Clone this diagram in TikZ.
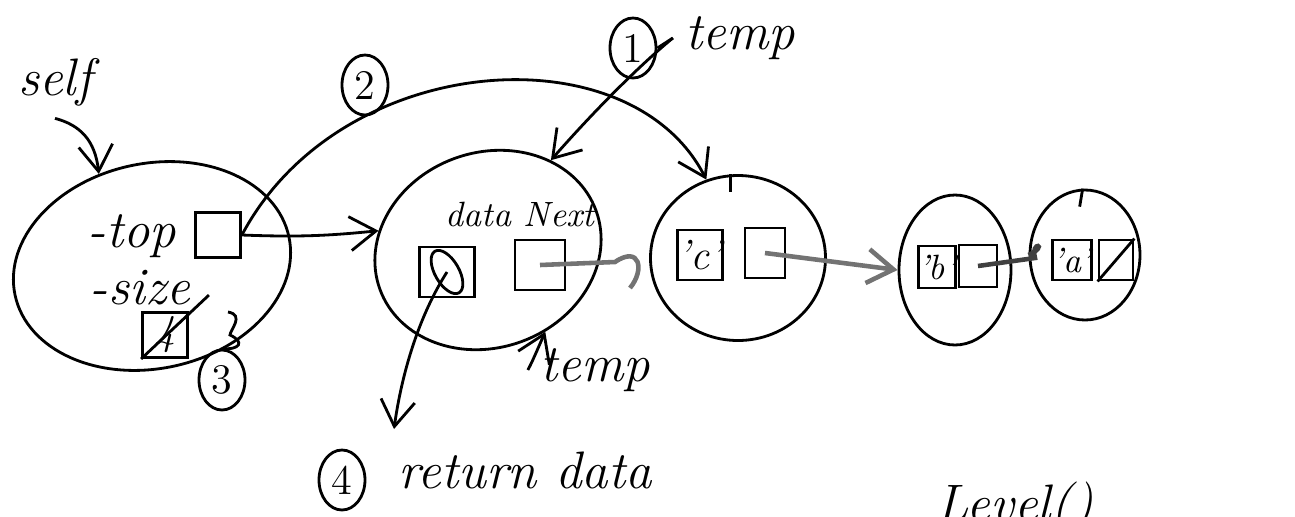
\documentclass[tikz,border=0pt]{standalone}
\usetikzlibrary{arrows.meta,positioning,shapes.geometric}

\begin{document}
\begin{tikzpicture}[
  font=\itshape\fontsize{15}{17}\selectfont,
  >={Straight Barb[length=2.6mm,width=3.4mm]},
  obj/.style={draw,ellipse,thick,inner sep=0pt},
  cell/.style={draw,thick,minimum width=.45cm,minimum height=.45cm,inner sep=0pt,font=\itshape\normalsize},
  num/.style={draw,ellipse,thick,minimum width=.46cm,minimum height=.6cm,inner sep=0pt,font=\large},
  line/.style={->,thick},
  link/.style={line width=1.3pt,black!55}
]
\useasboundingbox (0,0) rectangle (12.95,-5.16);

% The stack object itself.
\node[obj,minimum width=2.8cm,minimum height=2.05cm,rotate=12] (selfobj) at (1.52,-2.66) {};
\node (selflbl) at (0.55,-0.82) {self};
\draw[line] (selflbl.south) .. controls (0.8,-1.25) and (0.95,-1.4) .. (selfobj.108);
\node (toplbl) at (1.32,-2.36) {-top};
\node[cell] (topcell) at (2.18,-2.35) {};
\node (sizelbl) at (1.4,-2.88) {-size};
\node[cell,font=\itshape\large] (sizecell) at (1.65,-3.35) {4};
\draw[thick] (sizecell.south west) -- ([shift={(.2,.16)}]sizecell.north east);
\node[num] (n3) at (2.22,-3.8) {3};
\coordinate (sizemark) at (2.28,-3.12);
\draw[thick] (sizemark) .. controls (2.45,-3.15) and (2.3,-3.3) .. (2.3,-3.35)
  .. controls (2.45,-3.42) and (2.4,-3.5) .. (n3.north);

% Node being popped ('d').
\node[obj,minimum width=2.3cm,minimum height=1.95cm,rotate=20] (nodeD) at (4.88,-2.5) {};
\node[font=\itshape\normalsize] (fieldlbl) at (5.2,-2.14) {data Next};
\node[cell,minimum height=.5cm,minimum width=.55cm] (dataD) at (4.47,-2.72) {};
\draw[thick,rotate around={30:(dataD.center)}] (dataD.center) ellipse (.12 and .24);
\node[cell,minimum height=.5cm,minimum width=.5cm] (nextD) at (5.4,-2.65) {};

% Remaining nodes 'c', 'b', 'a'.
\node[obj,minimum width=1.75cm,minimum height=1.65cm] (nodeC) at (7.38,-2.58) {};
\node[cell,minimum height=.5cm,minimum width=.45cm,font=\itshape\large] (dataC) at (7.0,-2.55) {'c'};
\node[cell,minimum height=.5cm,minimum width=.4cm] (nextC) at (7.65,-2.53) {};
\node[obj,minimum width=1.12cm,minimum height=1.5cm] (nodeB) at (9.55,-2.7) {};
\node[cell,minimum height=.42cm,minimum width=.36cm] (dataB) at (9.37,-2.67) {'b'};
\node[cell,minimum height=.42cm,minimum width=.38cm] (nextB) at (9.78,-2.66) {};
\node[obj,minimum width=1.1cm,minimum height=1.3cm] (nodeA) at (10.85,-2.55) {};
\node[cell,minimum height=.4cm,minimum width=.32cm] (dataA) at (10.72,-2.6) {'a'};
\node[cell,minimum height=.4cm,minimum width=.34cm] (nextA) at (11.16,-2.6) {};
\draw[thick] (nextA.south west) -- (nextA.north east);
\draw[thick] (nodeC.95) -- ++(0,-.18);
\draw[thick] (nodeA.92) -- ++(-.03,-.18);

% Links between nodes.
\draw[line] (topcell.east) to[bend right=4] (nodeD.150);
\draw[link] (nextD.center) -- (6.15,-2.62) .. controls (6.4,-2.45) and (6.45,-2.7) .. (6.3,-2.88);
\draw[link,->] (nextC.center) -- (nodeB.west);
\draw[link,black!75] (nextB.center) -- (10.35,-2.58) .. controls (10.3,-2.4) and (10.5,-2.45) .. (nodeA.west);

% Step 1: temp points at the top node.
\node[num] (n1) at (6.33,-0.48) {1};
\node (temp1) at (7.4,-0.38) {temp};
\draw[thick] (n1.east) -- (temp1.west);
\draw[line] (temp1.west) .. controls (6.4,-0.65) and (5.95,-1.1) .. (nodeD.35);

% Step 2: top moves on to the next node.
\node[num] (n2) at (3.65,-0.85) {2};
\draw[line] (topcell.east) .. controls (3.4,-0.5) and (6.3,-0.3) .. (nodeC.112);

% Step 4: hand back the data.
\node (temp2) at (5.95,-3.7) {temp};
\draw[line] (temp2.west) .. controls (5.32,-3.62) .. (nodeD.-75);
\node[num] (n4) at (3.42,-4.8) {4};
\node (retlbl) at (5.25,-4.7) {return data};
\draw[line] (dataD.center) .. controls (4.1,-3.3) and (3.98,-4.0) .. ([shift={(.08,.1)}]retlbl.north west);

\node (calllbl) at (10.15,-5.08) {Level()};
\end{tikzpicture}
\end{document}
